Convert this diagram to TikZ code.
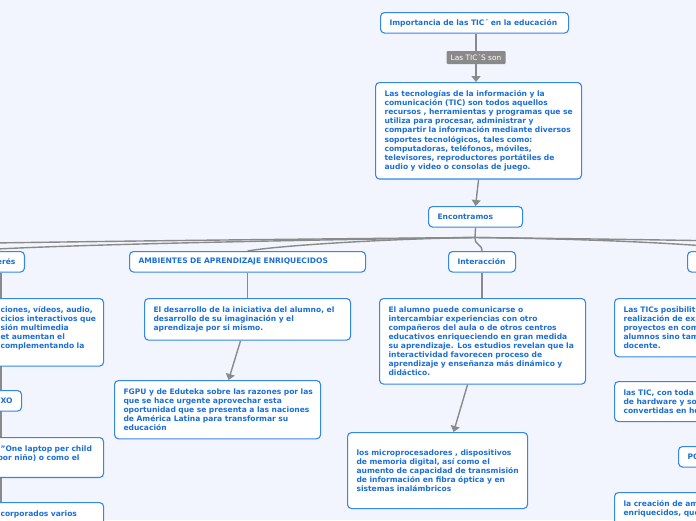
\documentclass[tikz,border=0pt]{standalone}
\usepackage{fontspec}
\setmainfont{DejaVu Sans}
\usetikzlibrary{arrows.meta}
\definecolor{bgc}{HTML}{F2F5FD}
\definecolor{bxc}{HTML}{3587E6}
\definecolor{txc}{HTML}{1C6FD6}
\definecolor{lnc}{HTML}{8A8A8A}
\pgfdeclarelayer{back}
\pgfdeclarelayer{lines}
\pgfsetlayers{back,lines,main}
\newcommand{\tline}[1]{\mbox{#1}}
\begin{document}
\begin{tikzpicture}[x=1pt,y=-1pt,
  box/.style={draw=bxc, line width=1.1pt, fill=white, rounded corners=4pt,
    font=\fontsize{7.55}{9.1}\selectfont\bfseries, text=txc, align=left,
    inner xsep=9pt, inner ysep=8pt, anchor=north west},
  one/.style={box, inner ysep=0pt, minimum height=20.5pt},
  conn/.style={draw=lnc, line width=1.4pt},
  arr/.style={conn, -{Triangle[width=9pt,length=6pt]}},
  lab/.style={fill=lnc, text=white, font=\fontsize{7.4}{8}\selectfont, inner sep=0pt,
    minimum width=59pt, minimum height=13pt, rounded corners=1pt}]
\useasboundingbox (0,0) rectangle (696,520);
\clip (0,0) rectangle (696,520);
\begin{pgfonlayer}{back}
\fill[bgc] (0,0) rectangle (696,520);
\end{pgfonlayer}

% top
\node[one, text width=170pt] (top) at (380,12) {Importancia de las TIC´ en la educación};
\node[lab] (lab) at (476,57.5) {Las TIC´S son};
\node[box, text width=188pt] (main) at (375,82) {\tline{Las tecnologías de la información y la}\\
\tline{comunicación (TIC) son todos aquellos}\\
\tline{recursos , herramientas y programas que se}\\
\tline{utiliza para procesar, administrar y}\\
\tline{compartir la información mediante diversos}\\
\tline{soportes tecnológicos, tales como:}\\
\tline{computadoras, teléfonos, móviles,}\\
\tline{televisores, reproductores portátiles de}\\
\tline{audio y video o consolas de juego.}};
\node[one, text width=76pt] (enc) at (428,206) {Encontramos};

% second level
\node[one, text width=82pt, align=right, anchor=north east] (ers) at (25,251) {erés};
\node[one, text width=218pt] (amb) at (129,251) {AMBIENTES DE APRENDIZAJE ENRIQUECIDOS};
\node[one, text width=49pt] (int) at (448,251) {Interacción};
\node[one, text width=82pt] (rtop) at (687,251) {};

% left column
\node[box, text width=94pt] (left2) at (-9,298) {\tline{ciones, vídeos, audio,}\\
\tline{cicios interactivos que}\\
\tline{sión multimedia}\\
\tline{et aumentan el}\\
\tline{complementando la}\\
\phantom{x}};
\node[one, text width=12pt] (xo) at (-9,390) {XO};
\node[box, text width=94pt] (laptop) at (-9,437) {\tline{"One laptop per child}\\
\tline{\hspace*{-3pt}por niño) o como el}\\
\phantom{x}};
\node[box, text width=94pt] (corp) at (-9,502) {\tline{corporados varios}\\ \phantom{x}};

% middle column
\node[box, text width=188pt] (des) at (144,298) {\tline{El desarrollo de la iniciativa del alumno, el}\\
\tline{desarrollo de su imaginación y el}\\
\tline{aprendizaje por si mismo.}};
\node[box, text width=188pt] (fgpu) at (114,380) {\tline{FGPU y de Eduteka sobre las razones por las}\\
\tline{que se hace urgente aprovechar esta}\\
\tline{oportunidad que se presenta a las naciones}\\
\tline{de América Latina para transformar su}\\
\tline{educación}};
\node[box, text width=188pt] (inter) at (379,298) {\tline{El alumno puede comunicarse o}\\
\tline{intercambiar experiencias con otro}\\
\tline{compañeros del aula o de otros centros}\\
\tline{educativos enriqueciendo en gran medida}\\
\tline{su aprendizaje. Los estudios revelan que la}\\
\tline{interactividad favorecen proceso de}\\
\tline{aprendizaje y enseñanza más dinámico y}\\
\tline{didáctico.}};
\node[box, text width=162pt, minimum height=76pt] (micro) at (347,432) {\tline{los microprocesadores , dispositivos}\\
\tline{de  memoria digital, así como el}\\
\tline{aumento de capacidad de transmisión}\\
\tline{de información  en fibra óptica y en}\\
\tline{sistemas inalámbricos}};

% right column
\node[box, text width=182pt] (rlas) at (614,298) {\tline{Las TICs posibilit}\\
\tline{realización de exp}\\
\tline{proyectos en com}\\
\tline{alumnos sino tam}\\
\tline{docente.}};
\node[box, text width=182pt] (rcon) at (614,381) {\tline{las TIC, con toda}\\
\tline{de hardware y so}\\
\tline{convertidas en he}};
\node[one, text width=82pt] (rpo) at (678,446) {PO};
\node[box, text width=182pt] (rcre) at (614,492) {\tline{la creación de am}\\
\tline{enriquecidos, que}\\ \phantom{x}};

% connectors
\coordinate (hub) at (475,237.5);
\coordinate (offL1) at (-35,251);
\coordinate (offL2) at (-420,251);
\coordinate (offR1) at (760,251);
\coordinate (offR2) at (1100,251);
\coordinate (lc) at (0.8,520);
\begin{pgfonlayer}{lines}
\draw[arr] (lab.north |- top.south) -- (lab.south |- main.north);
\draw[arr] (main.south) -- (enc.north);
\draw[conn] (enc.south) -- (hub);
\draw[conn] (hub) .. controls (300,240) and (40,245) .. (offL1);
\draw[conn] (hub) .. controls (250,239.5) and (-100,243) .. (offL2);
\draw[conn] (hub) .. controls (380,239) and (275,246) .. (amb.north);
\draw[conn] (hub) .. controls (475,246) and (481.5,243) .. (int.north);
\draw[conn] (hub) .. controls (600,239) and (700,244) .. (offR1);
\draw[conn] (hub) .. controls (650,239.5) and (900,243) .. (offR2);
\draw[conn] (amb.south) -- (amb.south |- des.north);
\draw[conn] (int.south) -- (int.south |- inter.north);
\draw[arr] ([xshift=-7pt]des.south) -- ([xshift=11pt]fgpu.north);
\draw[arr] ([xshift=-15pt]inter.south) -- ([xshift=16pt]micro.north);
\draw[conn] (ers.south -| lc) -- (lc);
\end{pgfonlayer}
\end{tikzpicture}
\end{document}
